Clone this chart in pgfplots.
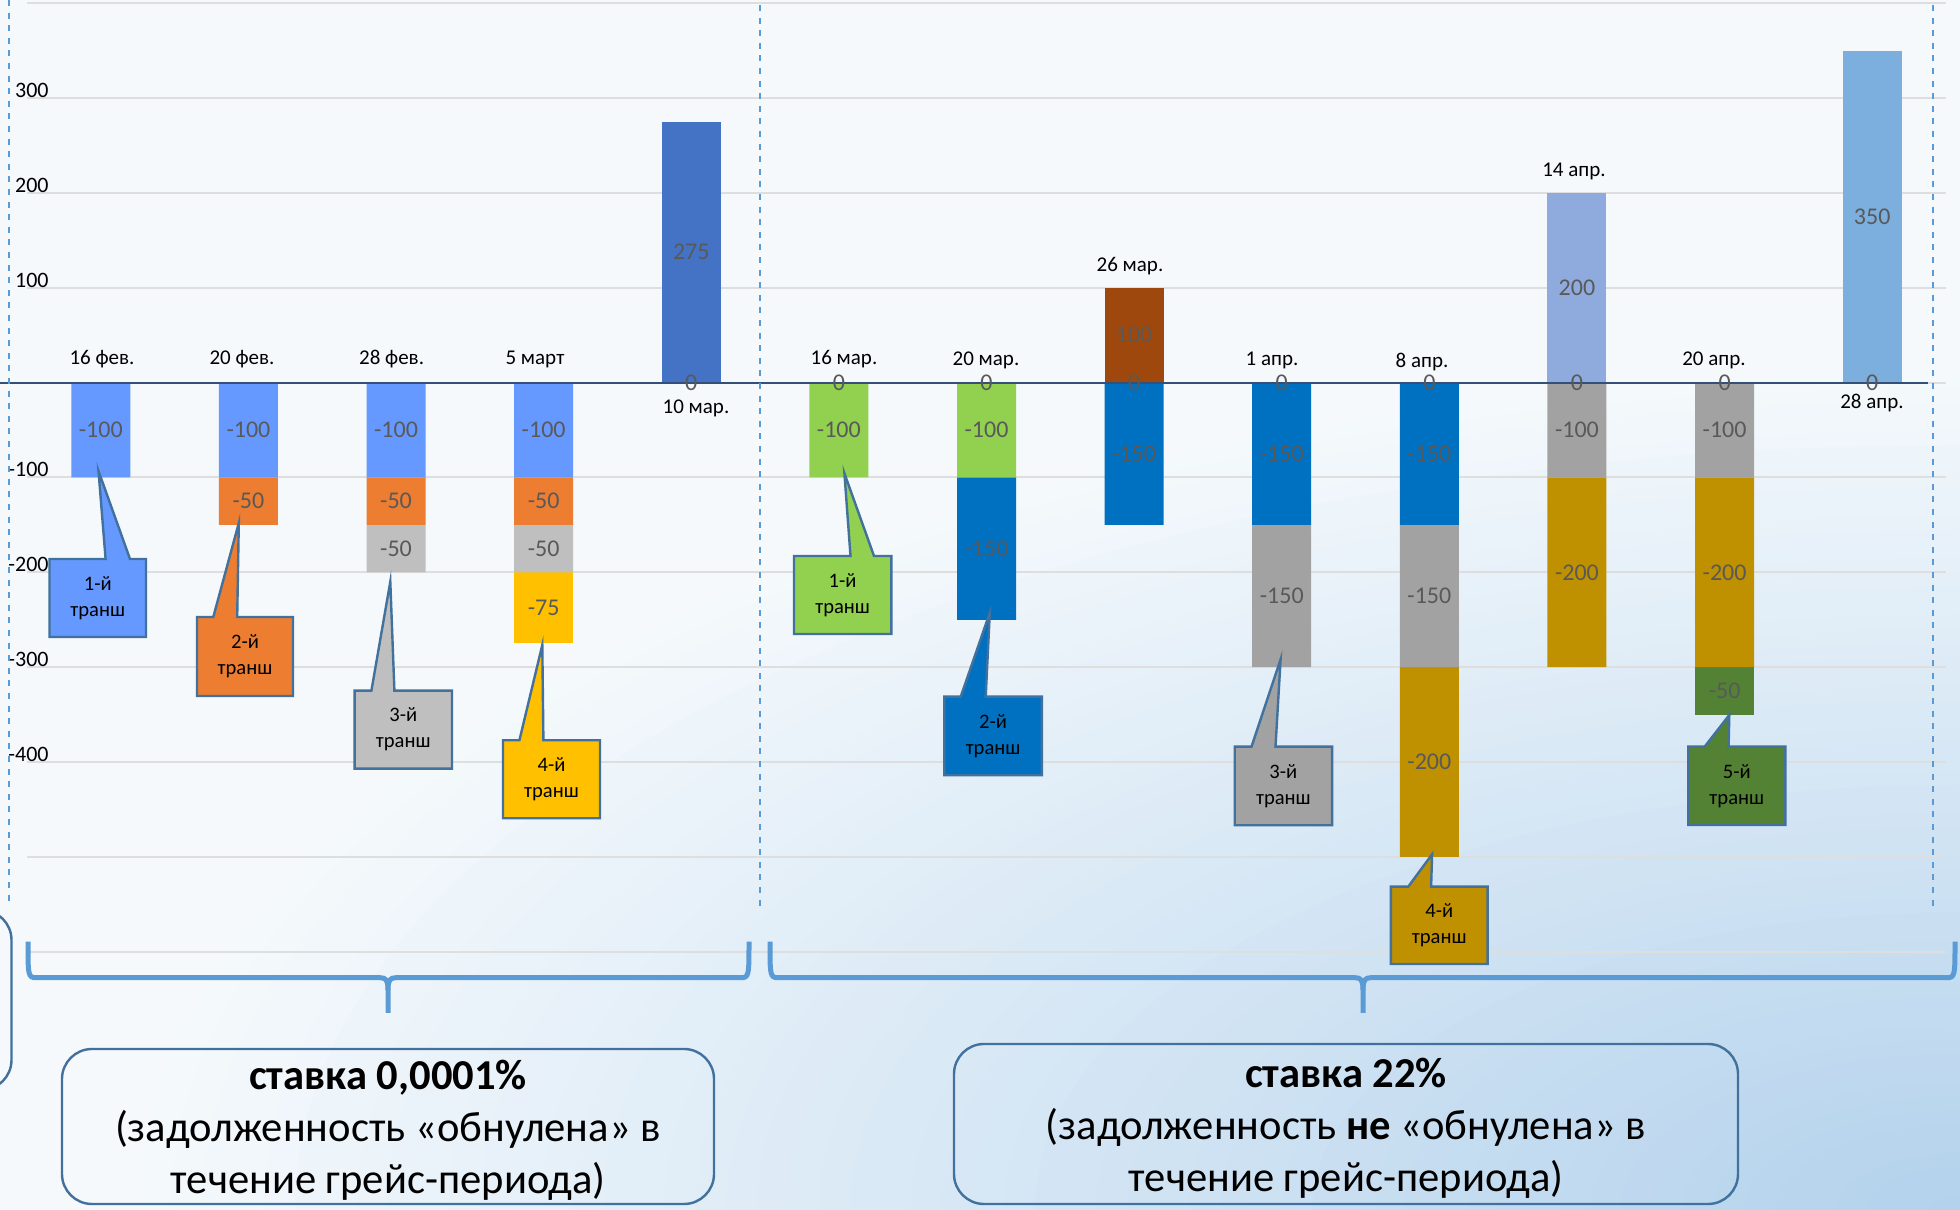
\documentclass[border=0pt]{standalone}
\usepackage{pgfplots}
\pgfplotsset{compat=1.18}
\usepackage{fontspec}
\setmainfont{Carlito}

\definecolor{bgw}{RGB}{245,249,252}
\definecolor{bgb}{RGB}{178,209,236}

\definecolor{cA}{RGB}{102,153,255}
\definecolor{cOr}{RGB}{237,125,49}
\definecolor{cGa}{RGB}{191,191,191}
\definecolor{cYe}{RGB}{255,192,0}
\definecolor{cP1}{RGB}{68,114,196}
\definecolor{cGr}{RGB}{146,208,80}
\definecolor{cBl}{RGB}{0,112,192}
\definecolor{cBr}{RGB}{158,72,14}
\definecolor{cGb}{RGB}{162,162,162}
\definecolor{cGo}{RGB}{191,144,0}
\definecolor{cP3}{RGB}{143,170,220}
\definecolor{cP4}{RGB}{124,175,221}
\definecolor{cDg}{RGB}{84,130,53}
\definecolor{cDgb}{RGB}{67,104,43}
\definecolor{lab}{RGB}{89,89,89}
\definecolor{cob}{RGB}{65,113,156}
\definecolor{brc}{RGB}{91,155,213}
\definecolor{zl}{RGB}{52,80,120}
\definecolor{grd}{RGB}{222,222,222}

\pgfplotsset{
  base/.style={scale only axis, width=959.5pt, height=474.2pt,
    at={(13.5pt,129.15pt)}, anchor=south west,
    xmin=-0.5, xmax=12.5, ymin=-600, ymax=400,
    axis line style={draw=none}, tick style={draw=none}, xtick=\empty,
    clip=false, bar width=29.5pt},
  vl/.style={nodes near coords align={center},
    every node near coord/.append style={text=lab, anchor=center,
      font=\fontsize{12}{14}\selectfont, yshift=#1}},
}

\tikzset{px/.style={x=0.5pt, y=-0.5pt, yshift=605pt}}

\newcommand{\callout}[9]{%
  \draw[cob, line width=1.2pt, fill=#1] (#2,#3) -- (#6,#3) -- (#8) -- (#7,#3) -- (#4,#3) -- (#4,#5) -- (#2,#5) -- cycle;
  \node[align=center, font=\fontsize{10.3}{13}\selectfont, inner sep=0pt] at ({(#2+#4)/2},{(#3+#5)/2}) {#9-й\\транш};
}

\begin{document}
\begin{tikzpicture}
\useasboundingbox (0,0) rectangle (980pt,605pt);

% background
\begin{scope}[px]
  \fill[bgw] (0,0) rectangle (1960,1210);
  \begin{scope}
    \clip (0,0) rectangle (1960,1210);
    \foreach \i in {0,...,59}{
      \pgfmathsetmacro\r{1-\i/60}
      \pgfmathtruncatemacro\p{100*\i/60}
      \fill[bgb!\p!bgw] (1960,1210) ellipse [x radius={1850*\r}, y radius={850*\r}];
    }
  \end{scope}
\end{scope}

% positive bars + grid
\begin{axis}[base, ybar, bar shift=0pt,
  ymajorgrids, grid style={grd, line width=1pt},
  ytick={-600,-500,...,400},
  yticklabels={,,-400,-300,-200,-100,,100,200,300,},
  yticklabel style={anchor=south east, inner sep=0pt, xshift=11pt,
    font=\fontsize{11}{12}\selectfont, text=black}]
\addplot[fill=cP1, draw=none, nodes near coords={275}, vl=-65.2pt] coordinates {(4,275)};
\addplot[fill=cBr, draw=none, nodes near coords={100}, vl=-23.7pt] coordinates {(7,100)};
\addplot[fill=cP3, draw=none, nodes near coords={200}, vl=-47.4pt] coordinates {(10,200)};
\addplot[fill=cP4, draw=none, nodes near coords={350}, vl=-83pt] coordinates {(12,350)};
\end{axis}

% negative stacked bars (labels centred in each segment)
\begin{axis}[base, ybar stacked, ytick=\empty]
\addplot[fill=cA, draw=none, nodes near coords, point meta=explicit symbolic, vl=0pt] coordinates {
 (0,-100)[-100] (1,-100)[-100] (2,-100)[-100] (3,-100)[-100] (4,0)[] (5,0)[] (6,0)[] (7,0)[] (8,0)[] (9,0)[] (10,0)[] (11,0)[] (12,0)[]};
\addplot[fill=cOr, draw=none, nodes near coords, point meta=explicit symbolic, vl=0pt] coordinates {
 (0,0)[] (1,-50)[-50] (2,-50)[-50] (3,-50)[-50] (4,0)[] (5,0)[] (6,0)[] (7,0)[] (8,0)[] (9,0)[] (10,0)[] (11,0)[] (12,0)[]};
\addplot[fill=cGa, draw=none, nodes near coords, point meta=explicit symbolic, vl=0pt] coordinates {
 (0,0)[] (1,0)[] (2,-50)[-50] (3,-50)[-50] (4,0)[] (5,0)[] (6,0)[] (7,0)[] (8,0)[] (9,0)[] (10,0)[] (11,0)[] (12,0)[]};
\addplot[fill=cYe, draw=none, nodes near coords, point meta=explicit symbolic, vl=0pt] coordinates {
 (0,0)[] (1,0)[] (2,0)[] (3,-75)[-75] (4,0)[] (5,0)[] (6,0)[] (7,0)[] (8,0)[] (9,0)[] (10,0)[] (11,0)[] (12,0)[]};
\addplot[fill=cGr, draw=none, nodes near coords, point meta=explicit symbolic, vl=0pt] coordinates {
 (0,0)[] (1,0)[] (2,0)[] (3,0)[] (4,0)[] (5,-100)[-100] (6,-100)[-100] (7,0)[] (8,0)[] (9,0)[] (10,0)[] (11,0)[] (12,0)[]};
\addplot[fill=cBl, draw=none, nodes near coords, point meta=explicit symbolic, vl=0pt] coordinates {
 (0,0)[] (1,0)[] (2,0)[] (3,0)[] (4,0)[] (5,0)[] (6,-150)[-150] (7,-150)[-150] (8,-150)[-150] (9,-150)[-150] (10,0)[] (11,0)[] (12,0)[]};
\addplot[fill=cGb, draw=none, nodes near coords, point meta=explicit symbolic, vl=0pt] coordinates {
 (0,0)[] (1,0)[] (2,0)[] (3,0)[] (4,0)[] (5,0)[] (6,0)[] (7,0)[] (8,-150)[-150] (9,-150)[-150] (10,0)[] (11,0)[] (12,0)[]};
\addplot[fill=cGb, draw=none, nodes near coords, point meta=explicit symbolic, vl=0pt] coordinates {
 (0,0)[] (1,0)[] (2,0)[] (3,0)[] (4,0)[] (5,0)[] (6,0)[] (7,0)[] (8,0)[] (9,0)[] (10,-100)[-100] (11,-100)[-100] (12,0)[]};
\addplot[fill=cGo, draw=none, nodes near coords, point meta=explicit symbolic, vl=0pt] coordinates {
 (0,0)[] (1,0)[] (2,0)[] (3,0)[] (4,0)[] (5,0)[] (6,0)[] (7,0)[] (8,0)[] (9,-200)[-200] (10,-200)[-200] (11,-200)[-200] (12,0)[]};
\addplot[fill=cDg, draw=none, nodes near coords, point meta=explicit symbolic, vl=0pt] coordinates {
 (0,0)[] (1,0)[] (2,0)[] (3,0)[] (4,0)[] (5,0)[] (6,0)[] (7,0)[] (8,0)[] (9,0)[] (10,0)[] (11,-50)[-50] (12,0)[]};
\draw[cDgb, line width=2.2pt] (axis cs:10.814,-302.3) rectangle (axis cs:11.186,-347.7);
\end{axis}

% zero line and "0" labels at the bar bases
\begin{scope}[px]
  \draw[zl, line width=1pt] (0,382.7) -- (1928,382.7);
\end{scope}
\begin{axis}[base, ybar, bar shift=0pt, ytick=\empty]
\addplot[draw=none, fill=none, nodes near coords, point meta=explicit symbolic, vl=0pt] coordinates {
 (4,0)[0] (5,0)[0] (6,0)[0] (7,0)[0] (8,0)[0] (9,0)[0] (10,0)[0] (11,0)[0] (12,0)[0]};
\end{axis}

\begin{scope}[px]
  % dashed separators
  \draw[brc, line width=1pt, dash pattern=on 3pt off 3.3pt] (9,0) -- (9,902);
  \draw[brc, line width=1pt, dash pattern=on 3pt off 3.3pt] (760,5) -- (760,907);
  \draw[brc, line width=1pt, dash pattern=on 3pt off 3.3pt] (1933,5) -- (1933,907);

  % date labels
  \begin{scope}[every node/.style={font=\fontsize{10.5}{12}\selectfont, inner sep=0pt}]
    \node at (102,359) {16 фев.};
    \node at (242,359) {20 фев.};
    \node at (391.6,359) {28 фев.};
    \node at (535,359) {5 март};
    \node at (696,408) {10 мар.};
    \node at (844,359) {16 мар.};
    \node at (986,360.7) {20 мар.};
    \node at (1130,266) {26 мар.};
    \node at (1272,360.7) {1 апр.};
    \node at (1422,361.7) {8 апр.};
    \node at (1574,171.7) {14 апр.};
    \node at (1714,360) {20 апр.};
    \node at (1872,403.3) {28 апр.};
  \end{scope}

  % callouts
  \callout{cA}{49.5}{559}{146}{637}{105.6}{130}{98.5,471}{1}
  \callout{cOr}{197}{617}{293}{696}{213.3}{237.2}{238.8,523}{2}
  \callout{cGa}{354.6}{690.7}{452}{768.7}{371.4}{394.4}{390.3,581.7}{3}
  \callout{cYe}{503}{740.3}{600}{818.3}{519.4}{543.4}{542.3,645}{4}
  \callout{cGr}{794}{556}{891.3}{634}{850.5}{874}{844.4,473.3}{1}
  \callout{cBl}{944.4}{696.7}{1041.8}{775.3}{960.7}{985.7}{989.8,612.7}{2}
  \callout{cGb}{1234.7}{746.7}{1332.1}{825.3}{1251.5}{1275.5}{1280.6,659.3}{3}
  \callout{cGo}{1390.9}{886.7}{1487.6}{964}{1408.2}{1431.1}{1432.1,854.3}{4}
  \callout{cDg}{1688.2}{746.7}{1785.4}{825}{1704.6}{1728.6}{1729.3,715}{5}

  % braces
  \begin{scope}[brc, line width=2.5pt]
    \draw (28,941.7) .. controls (28,975) and (28,977.7) .. (36,977.7) -- (380,977.7)
          .. controls (386,977.7) and (388,980) .. (388,990) -- (388,1013);
    \draw (388,990) .. controls (388,980) and (390,977.7) .. (396,977.7) -- (741,977.7)
          .. controls (749,977.7) and (749,975) .. (749,941.7);
    \draw (770,941.7) .. controls (770,975) and (770,977.7) .. (778,977.7) -- (1355,977.7)
          .. controls (1361,977.7) and (1363,980) .. (1363,990) -- (1363,1013);
    \draw (1363,990) .. controls (1363,980) and (1365,977.7) .. (1371,977.7) -- (1947,977.7)
          .. controls (1955,977.7) and (1955,975) .. (1955,941.7);
  \end{scope}

  % boxes
  \draw[cob, line width=1.2pt, rounded corners=15pt] (-300,910) rectangle (11.5,1090);
  \draw[cob, line width=1.2pt, rounded corners=15pt] (62,1049) rectangle (714,1204);
  \draw[cob, line width=1.2pt, rounded corners=15pt] (954,1044) rectangle (1738,1204);
  \node[align=center, font=\fontsize{21.3}{26}\selectfont, inner sep=0pt] at (388,1130)
    {\textbf{ставка 0,0001\%}\\(задолженность «обнулена» в\\течение грейс-периода)};
  \node[align=center, font=\fontsize{21.3}{26}\selectfont, inner sep=0pt] at (1346,1128)
    {\textbf{ставка 22\%}\\(задолженность \textbf{не} «обнулена» в\\течение грейс-периода)};
\end{scope}
\end{tikzpicture}
\end{document}
